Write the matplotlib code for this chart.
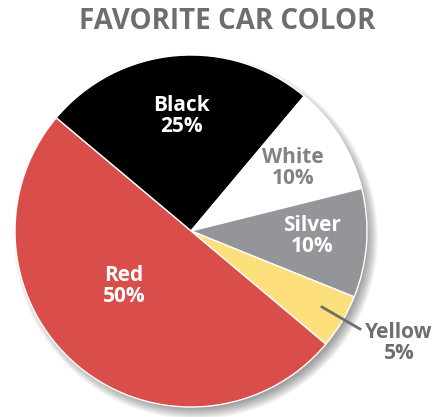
import matplotlib.pyplot as plt
from matplotlib.patches import Circle
import matplotlib

matplotlib.rcParams["font.family"] = ["Open Sans", "DejaVu Sans"]

colors_name = ["Black", "White", "Silver", "Yellow", "Red"]
shares = [25, 10, 10, 5, 50]
slice_colors = ["#000000", "#ffffff", "#939598", "#fde07c", "#d94d4a"]
text_colors = ["white", "#808285", "white", "#6d6e71", "white"]

W, H = 435, 417
fig = plt.figure(figsize=(W / 100, H / 100), dpi=100)
ax = fig.add_axes([0, 0, 1, 1])

cx, cy, r = 191, H - 231, 176

# soft drop shadow
for i in range(12):
    ax.add_patch(Circle((cx + 5, cy - 6), r + 6 - i, color="black", alpha=0.035, lw=0, zorder=0))

wedges, _ = ax.pie(shares, colors=slice_colors, startangle=140, counterclock=False,
                   center=(cx, cy), radius=r, frame=True,
                   wedgeprops=dict(edgecolor="white", linewidth=1))
for w in wedges:
    w.set_zorder(2)
ax.set_xlim(0, W)
ax.set_ylim(0, H)
ax.axis("off")

label_pos = [(181, 116), (293, 168), (312, 236), (399, 343), (124, 286)]
for name, pct, (x, y), tc in zip(colors_name, shares, label_pos, text_colors):
    ax.text(x, H - y, f"{name}\n{pct}%", color=tc, fontsize=15, fontweight="bold",
            ha="center", va="center", linespacing=0.95, zorder=5)

ax.plot([322, 360], [H - 307, H - 329], color="#6d6e71", lw=2, zorder=5)

ax.text(227, H - 21, "FAVORITE CAR COLOR", color="#6d6e71", fontsize=20,
        fontweight="bold", ha="center", va="center")

fig.savefig("out.png", dpi=100)
